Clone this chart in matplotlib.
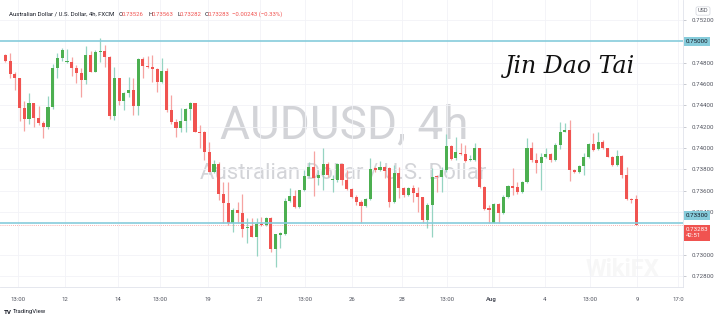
import matplotlib.pyplot as plt
from matplotlib.transforms import blended_transform_factory

# 4h AUDUSD candles
opens = [0.74873, 0.74816, 0.74691, 0.74654, 0.74379, 0.74273, 0.74419, 0.74279, 0.74232, 0.74201,
         0.74388, 0.74754, 0.74841, 0.74807, 0.74804, 0.74754, 0.74707, 0.74638, 0.74873, 0.74716,
         0.74898, 0.74910, 0.74857, 0.74304, 0.74654, 0.74441, 0.74513, 0.74544, 0.74394, 0.74835,
         0.74773, 0.74760, 0.74738, 0.74616, 0.74723, 0.74357, 0.74241, 0.74185, 0.74254, 0.74366,
         0.74419, 0.74154, 0.74154, 0.73966, 0.73779, 0.73848, 0.73569, 0.73482, 0.73294, 0.73419,
         0.73388, 0.73248, 0.73269, 0.73169, 0.73288, 0.73279, 0.73348, 0.73051, 0.73185, 0.73191,
         0.73504, 0.73551, 0.73451, 0.73607, 0.73738, 0.73826, 0.73723, 0.73748, 0.73848, 0.73698,
         0.73701, 0.73848, 0.73701, 0.73616, 0.73538, 0.73491, 0.73460, 0.73523, 0.73816, 0.73794,
         0.73819, 0.73810, 0.73498, 0.73769, 0.73623, 0.73560, 0.73629, 0.73576, 0.73538, 0.73326,
         0.73466, 0.73738, 0.73732, 0.73794, 0.74023, 0.73904, 0.73957, 0.73944, 0.73885, 0.73888,
         0.73998, 0.73638, 0.73435, 0.73301, 0.73473, 0.73394, 0.73544, 0.73648, 0.73638, 0.73585,
         0.73685, 0.73998, 0.73888, 0.73863, 0.73913, 0.73941, 0.73888, 0.74029, 0.74154, 0.74169,
         0.73794, 0.73773, 0.73832, 0.73919, 0.74035, 0.73988, 0.74060, 0.73998, 0.73919, 0.73841,
         0.73926, 0.73748, 0.73526, 0.73526]
highs = [0.74879, 0.74888, 0.74710, 0.74660, 0.74441, 0.74513, 0.74425, 0.74394, 0.74254, 0.74488,
         0.74785, 0.74888, 0.74941, 0.74929, 0.74857, 0.74779, 0.74748, 0.74960, 0.74910, 0.74919,
         0.75029, 0.74966, 0.74860, 0.74763, 0.74660, 0.74529, 0.74669, 0.74654, 0.74848, 0.74857,
         0.74866, 0.74873, 0.74754, 0.74841, 0.74754, 0.74498, 0.74273, 0.74373, 0.74379, 0.74435,
         0.74425, 0.74216, 0.74160, 0.74060, 0.73888, 0.73873, 0.73685, 0.73685, 0.73435, 0.73498,
         0.73566, 0.73341, 0.73341, 0.73341, 0.73357, 0.73357, 0.73357, 0.73195, 0.73216, 0.73529,
         0.73623, 0.73607, 0.73610, 0.73794, 0.73873, 0.73973, 0.73794, 0.73998, 0.73873, 0.73748,
         0.73863, 0.73863, 0.73794, 0.73625, 0.73560, 0.73513, 0.73535, 0.73904, 0.73826, 0.73879,
         0.73835, 0.73826, 0.73841, 0.73826, 0.73638, 0.73638, 0.73654, 0.73638, 0.73545, 0.73482,
         0.73810, 0.73748, 0.73826, 0.74129, 0.74029, 0.74107, 0.74044, 0.74029, 0.73935, 0.74044,
         0.74004, 0.73645, 0.73466, 0.73482, 0.73482, 0.73560, 0.73654, 0.73810, 0.73685, 0.73691,
         0.74091, 0.74060, 0.73951, 0.73951, 0.73998, 0.73951, 0.74044, 0.74241, 0.74232, 0.74263,
         0.73804, 0.73841, 0.73951, 0.74044, 0.74144, 0.74154, 0.74076, 0.74004, 0.73929, 0.73982,
         0.73935, 0.73826, 0.73535, 0.73563]
lows = [0.74810, 0.74660, 0.74544, 0.74254, 0.74160, 0.74223, 0.74201, 0.74216, 0.74098, 0.74179,
        0.74366, 0.74660, 0.74816, 0.74794, 0.74679, 0.74607, 0.74482, 0.74598, 0.74710, 0.74712,
        0.74810, 0.74763, 0.74273, 0.74263, 0.74404, 0.74357, 0.74482, 0.74310, 0.74310, 0.74654,
        0.74748, 0.74623, 0.74529, 0.74607, 0.74341, 0.74223, 0.74107, 0.74154, 0.74148, 0.74263,
        0.74148, 0.73998, 0.73888, 0.73775, 0.73763, 0.73513, 0.73294, 0.73279, 0.73216, 0.73294,
        0.73169, 0.73107, 0.73163, 0.72988, 0.73273, 0.73273, 0.73029, 0.72888, 0.73060, 0.73185,
        0.73498, 0.73435, 0.73435, 0.73598, 0.73732, 0.73554, 0.73654, 0.73607, 0.73732, 0.73591,
        0.73685, 0.73654, 0.73607, 0.73529, 0.73466, 0.73301, 0.73445, 0.73513, 0.73779, 0.73785,
        0.73716, 0.73451, 0.73482, 0.73529, 0.73544, 0.73554, 0.73498, 0.73404, 0.73294, 0.73248,
        0.73169, 0.73591, 0.73591, 0.73779, 0.73888, 0.73888, 0.73935, 0.73873, 0.73879, 0.73879,
        0.73623, 0.73419, 0.73300, 0.73294, 0.73294, 0.73385, 0.73529, 0.73560, 0.73566, 0.73576,
        0.73669, 0.73873, 0.73763, 0.73607, 0.73904, 0.73873, 0.73879, 0.73993, 0.74148, 0.73691,
        0.73763, 0.73763, 0.73748, 0.73910, 0.73973, 0.73982, 0.73991, 0.73913, 0.73835, 0.73835,
        0.73723, 0.73513, 0.73482, 0.73282]
closes = [0.74816, 0.74691, 0.74654, 0.74379, 0.74273, 0.74419, 0.74279, 0.74232, 0.74201, 0.74388,
          0.74754, 0.74841, 0.74919, 0.74813, 0.74754, 0.74707, 0.74638, 0.74873, 0.74716, 0.74898,
          0.74913, 0.74857, 0.74304, 0.74654, 0.74441, 0.74513, 0.74544, 0.74394, 0.74835, 0.74773,
          0.74760, 0.74738, 0.74616, 0.74723, 0.74357, 0.74241, 0.74185, 0.74254, 0.74366, 0.74419,
          0.74154, 0.74144, 0.73966, 0.73779, 0.73848, 0.73569, 0.73482, 0.73294, 0.73419, 0.73388,
          0.73238, 0.73263, 0.73169, 0.73288, 0.73279, 0.73348, 0.73051, 0.73191, 0.73207, 0.73504,
          0.73551, 0.73451, 0.73607, 0.73738, 0.73826, 0.73723, 0.73748, 0.73848, 0.73748, 0.73710,
          0.73848, 0.73701, 0.73616, 0.73538, 0.73491, 0.73460, 0.73523, 0.73804, 0.73794, 0.73826,
          0.73788, 0.73498, 0.73769, 0.73623, 0.73560, 0.73629, 0.73576, 0.73538, 0.73326, 0.73466,
          0.73732, 0.73726, 0.73794, 0.74023, 0.73898, 0.73960, 0.73944, 0.73879, 0.73898, 0.73998,
          0.73638, 0.73429, 0.73423, 0.73473, 0.73394, 0.73544, 0.73644, 0.73623, 0.73585, 0.73685,
          0.73998, 0.73888, 0.73857, 0.73913, 0.73941, 0.73888, 0.74029, 0.74154, 0.74169, 0.73794,
          0.73773, 0.73832, 0.73919, 0.74035, 0.73982, 0.74060, 0.73998, 0.73919, 0.73841, 0.73926,
          0.73748, 0.73519, 0.73513, 0.73283]

x_labels = ["13:00", "12", "14", "13:00", "19", "21", "13:00", "26", "28", "13:00",
            "Aug", "4", "13:00", "9", "17:0"]
x_label_pos = [2.7, 12.6, 23.8, 32.6, 42.7, 53.7, 63.2, 73.1, 83.7, 93.1,
               102.6, 113.8, 123.3, 133.2, 141.9]
price_ticks = [0.752, 0.748, 0.746, 0.744, 0.742, 0.740, 0.738, 0.736, 0.734, 0.730, 0.728]
level_lines = [0.750, 0.733]
last_price = 0.73283

UP, DOWN = "#4caf50", "#f05350"
UP_WICK, DOWN_WICK = "#96d4c2", "#f6a3a1"
LINE_BLUE = "#86ccdb"
TXT = "#50535e"
plt.rcParams["font.family"] = ["Roboto", "DejaVu Sans"]

fig = plt.figure(figsize=(7.2, 3.22), dpi=100)
ax = fig.add_axes([0, 35 / 322, 683 / 720, 287 / 322])
ax.patch.set_alpha(0)

# faint logo watermark in the corner
fig.text(622 / 720, 1 - 270 / 322, "WikiFX", fontsize=17, fontweight="bold",
         color="#f7f7f7", ha="center", va="center", zorder=-5)

# big symbol watermark
fig.text(344 / 720, 1 - 125 / 322, "AUDUSD, 4h", fontsize=33, color="#d3d4d8",
         ha="center", va="center", zorder=-4)
fig.text(343 / 720, 1 - 174 / 322, "Australian Dollar / U.S. Dollar", fontsize=16,
         color="#d3d4d8", ha="center", va="center", zorder=-4)

for i in range(len(opens)):
    o, h, l, c = opens[i], highs[i], lows[i], closes[i]
    up = c >= o
    ax.vlines(i, l, h, color=UP_WICK if up else DOWN_WICK, lw=0.9, zorder=2)
    ax.bar(i, max(abs(c - o), 0.00003), bottom=min(o, c), width=0.65,
           color=UP if up else DOWN, zorder=3)

for lv in level_lines:
    ax.axhline(lv, color=LINE_BLUE, lw=1.2, zorder=4)
ax.axhline(last_price, color=DOWN, lw=0.6, ls=(0, (1, 1.5)), alpha=0.6, zorder=4)

ax.set_xlim(-1.12, 142.9)
ax.set_ylim(0.72697, 0.75388)

ax.set_xticks(x_label_pos)
ax.set_xticklabels(x_labels)
for lab in ax.get_xticklabels():
    if lab.get_text() == "Aug":
        lab.set_fontweight("bold")
ax.tick_params(axis="x", length=0, labelsize=4.3, labelcolor=TXT, pad=7)

ax.yaxis.tick_right()
ax.set_yticks(price_ticks)
ax.set_yticklabels([f"{p:.5f}" for p in price_ticks])
ax.tick_params(axis="y", length=2.2, width=0.5, color="#b2b5be", labelsize=4.4,
               labelcolor=TXT, pad=4)

ax.grid(color="#f2f3f7", lw=0.6)
ax.set_axisbelow(True)
for side in ["top", "left"]:
    ax.spines[side].set_visible(False)
for side in ["bottom", "right"]:
    ax.spines[side].set_color("#e0e3eb")
    ax.spines[side].set_linewidth(0.6)

# price labels on the scale
tr = blended_transform_factory(ax.transAxes, ax.transData)
ax.text(1.004, 0.750, "0.75000", transform=tr, ha="left", va="center", fontsize=4.4,
        color="#131722", clip_on=False,
        bbox=dict(boxstyle="square,pad=0.35", fc=LINE_BLUE, ec="none"))
ax.text(1.004, 0.73366, "0.73300", transform=tr, ha="left", va="center", fontsize=4.4,
        color="#131722", clip_on=False,
        bbox=dict(boxstyle="square,pad=0.35", fc=LINE_BLUE, ec="none"))
ax.text(1.004, 0.73205, f"{last_price:.5f}\n42:51", transform=tr, ha="left", va="center",
        fontsize=4.4, color="white", linespacing=1.3, clip_on=False,
        bbox=dict(boxstyle="square,pad=0.35", fc=DOWN, ec="none"))

fig.text(703 / 720, 1 - 11 / 322, "USD", fontsize=4, color=TXT, ha="center", va="center",
         bbox=dict(boxstyle="round,pad=0.3", fc="white", ec="#d1d4dc", lw=0.5))

# header line
hy = 1 - 14 / 322
fig.text(9 / 720, hy, "Australian Dollar / U.S. Dollar, 4h, FXCM", fontsize=4.3,
         color="#131722", va="center")
parts = [("O", 119, "0.73526", 122), ("H", 148.5, "0.73563", 152),
         ("L", 177, "0.73282", 180), ("C", 204.5, "0.73283", 208)]
for key, kx, val, vx in parts:
    fig.text(kx / 720, hy, key, fontsize=4.3, color="#131722", va="center")
    fig.text(vx / 720, hy, val, fontsize=4.3, color=DOWN, va="center")
fig.text(232 / 720, hy, "\u22120.00243 (\u22120.33%)", fontsize=4.3, color=DOWN, va="center")

# signature
fig.text(570 / 720, 1 - 66 / 322, "Jin Dao Tai", fontsize=17, family="DejaVu Serif",
         style="italic", color="#111111", ha="center", va="center")

# TradingView mark
fig.text(4 / 720, 1 - 312 / 322, "TV", fontsize=4.5, fontweight="bold", color="#131722",
         va="center")
fig.text(13 / 720, 1 - 312 / 322, "TradingView", fontsize=4.3, color="#131722", va="center")

fig.savefig("out.png", dpi=100, facecolor="white")
